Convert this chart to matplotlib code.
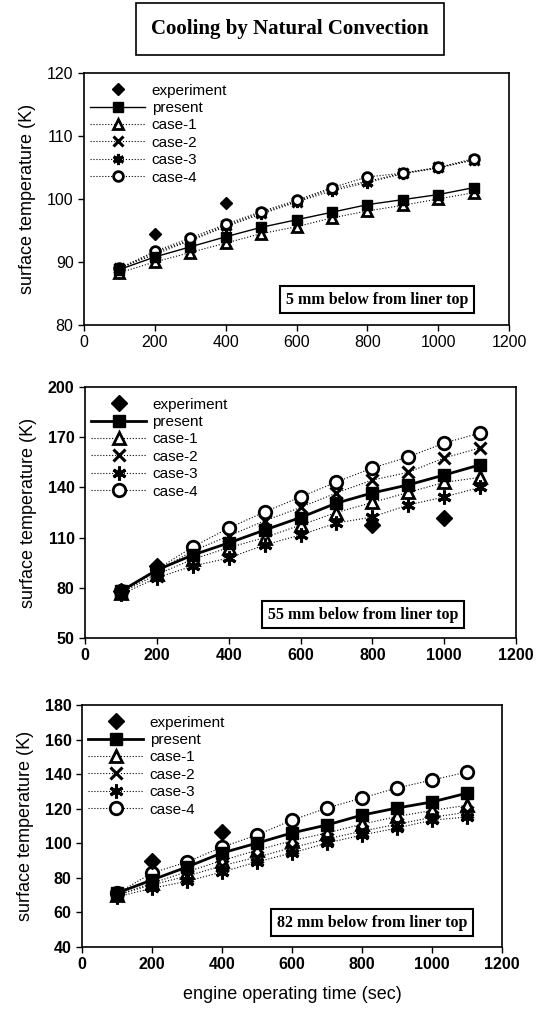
import numpy as np
import matplotlib.pyplot as plt

plt.rcParams['font.family'] = ['Liberation Sans', 'DejaVu Sans']

t = [100, 200, 300, 400, 500, 600, 700, 800, 900, 1000, 1100]

# panel 1 : 5 mm below from liner top
exp1_t = [200, 400]
exp1 = [94.4, 99.3]
present1 = [88.8, 90.8, 92.4, 94.0, 95.5, 96.7, 97.9, 99.1, 99.9, 100.7, 101.8]
case1_1 = [88.3, 90.0, 91.5, 93.0, 94.5, 95.6, 97.0, 98.1, 99.0, 100.0, 101.0]
case2_1 = [89.0, 91.5, 93.5, 95.8, 97.8, 99.6, 101.6, 102.8, 104.1, 105.0, 106.2]
case3_1 = [89.0, 91.2, 93.4, 95.6, 97.6, 99.5, 101.3, 102.6, 104.0, 104.9, 106.2]
case4_1 = [89.0, 91.7, 93.8, 96.0, 98.0, 99.8, 101.8, 103.5, 104.1, 105.0, 106.4]

# panel 2 : 55 mm below from liner top
exp2_t = [100, 200, 800, 1000]
exp2 = [78.0, 93.0, 117.5, 121.7]
present2 = [78.0, 90.6, 99.6, 106.8, 114.5, 122.0, 130.6, 136.7, 141.5, 147.4, 153.5]
case1_2 = [77.0, 88.0, 97.0, 104.0, 110.0, 117.5, 125.0, 131.0, 137.0, 143.0, 146.0]
case2_2 = [77.0, 90.0, 102.0, 111.0, 120.0, 128.0, 136.7, 144.4, 149.0, 157.6, 163.6]
case3_2 = [76.0, 86.0, 93.0, 97.8, 105.6, 111.6, 118.7, 122.3, 129.5, 134.3, 140.0]
case4_2 = [78.0, 91.0, 104.4, 115.7, 125.3, 134.3, 143.2, 151.6, 158.2, 166.5, 172.5]

# panel 3 : 82 mm below from liner top
exp3_t = [200, 400]
exp3 = [89.5, 106.5]
present3 = [71.2, 78.8, 86.3, 94.4, 100.1, 106.0, 110.6, 116.3, 120.4, 123.9, 129.0]
case1_3 = [70.0, 77.0, 83.5, 90.0, 96.0, 101.5, 106.0, 111.0, 115.5, 119.0, 122.0]
case2_3 = [70.0, 76.0, 81.0, 87.0, 92.0, 97.5, 102.5, 107.0, 111.0, 115.0, 118.0]
case3_3 = [69.0, 74.0, 78.0, 83.4, 89.2, 94.4, 100.1, 104.8, 108.8, 113.4, 115.2]
case4_3 = [71.0, 82.8, 89.2, 97.8, 104.8, 113.4, 120.4, 126.2, 132.0, 136.6, 141.2]

panels = [
    dict(rect=[84/543, 1-325/1011, 425/543, 252/1011], ylim=(80, 120), yticks=np.arange(80, 121, 10),
         exp_t=exp1_t, exp=exp1, series=[present1, case1_1, case2_1, case3_1, case4_1],
         label='5 mm below from liner top', box=(0.69, 0.10), bold=False, lw=1.0, ms=8),
    dict(rect=[85/543, 1-638/1011, 431/543, 251/1011], ylim=(50, 200), yticks=np.arange(50, 201, 30),
         exp_t=exp2_t, exp=exp2, series=[present2, case1_2, case2_2, case3_2, case4_2],
         label='55 mm below from liner top', box=(0.645, 0.092), bold=True, lw=2.0, ms=10),
    dict(rect=[82/543, 1-947/1011, 420/543, 242/1011], ylim=(40, 180), yticks=np.arange(40, 181, 20),
         exp_t=exp3_t, exp=exp3, series=[present3, case1_3, case2_3, case3_3, case4_3],
         label='82 mm below from liner top', box=(0.69, 0.10), bold=True, lw=2.0, ms=10),
]

names = ['present', 'case-1', 'case-2', 'case-3', 'case-4']
markers = ['s', '^', 'x', (6, 2, 0), 'o']

fig = plt.figure(figsize=(5.43, 10.11), dpi=100)

for p in panels:
    ax = fig.add_axes(p['rect'])
    fw = 'bold' if p['bold'] else 'normal'
    ms = p['ms']
    ax.plot(p['exp_t'], p['exp'], linestyle='none', marker='D', color='black',
            markersize=ms - 2, label='experiment', zorder=5)
    for i, (y, nm, mk) in enumerate(zip(p['series'], names, markers)):
        if i == 0:
            ax.plot(t, y, '-', color='black', lw=p['lw'], marker=mk, markersize=ms - 1,
                    label=nm, zorder=4)
        else:
            filled = mk in ('x', (6, 2, 0))
            ax.plot(t, y, ':', color='black', lw=0.8, marker=mk,
                    markersize=ms if mk == (6, 2, 0) else ms - 1,
                    markerfacecolor='black' if filled else 'white',
                    markeredgecolor='black', markeredgewidth=2.2 if filled else 2.0,
                    label=nm, zorder=3)
    ax.set_xlim(0, 1200)
    ax.set_ylim(*p['ylim'])
    ax.set_xticks(np.arange(0, 1201, 200))
    ax.set_yticks(p['yticks'])
    ax.tick_params(direction='out', length=4, width=1, labelsize=11.5, top=False, right=False)
    for lab in ax.get_xticklabels() + ax.get_yticklabels():
        lab.set_fontweight(fw)
    for s in ax.spines.values():
        s.set_linewidth(1.2)
    ax.set_ylabel('surface temperature (K)', fontsize=13, labelpad=8)
    ax.legend(loc='upper left', bbox_to_anchor=(-0.01, 1.0), frameon=False,
              fontsize=11, handlelength=3.6, handletextpad=0.4, labelspacing=0.22,
              borderaxespad=0.3)
    ax.text(p['box'][0], p['box'][1], p['label'], transform=ax.transAxes, ha='center', va='center',
            family='Liberation Serif', fontweight='bold', fontsize=11.5,
            bbox=dict(boxstyle='square,pad=0.35', facecolor='white', edgecolor='black', linewidth=1.5))

fig.axes[-1].set_xlabel('engine operating time (sec)', fontsize=13, labelpad=10)

fig.text(290/543, 1-29/1011, 'Cooling by Natural Convection', ha='center', va='center',
         family='Liberation Serif', fontweight='bold', fontsize=15,
         bbox=dict(boxstyle='square,pad=0.75', facecolor='white', edgecolor='black', linewidth=1.2))

fig.savefig('out.png', dpi=100)
